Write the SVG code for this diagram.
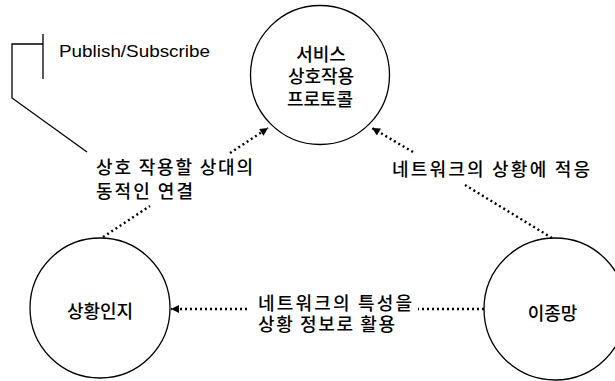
<svg xmlns="http://www.w3.org/2000/svg" width="615" height="381" viewBox="0 0 615 381">
<style>
.node{fill:#fff;stroke:#000;stroke-width:1.3}
.kt{font-family:"Noto Sans CJK KR","Noto Sans CJK SC",sans-serif;font-size:18px;font-weight:500;fill:#000}
.mid{text-anchor:middle}
.dot{fill:none;stroke:#000;stroke-width:2.4;stroke-dasharray:2 3}
.ln{fill:none;stroke:#000;stroke-width:1.3}
</style>
<defs>
<marker id="ah" viewBox="0 0 10 10" refX="10" refY="5" markerWidth="10" markerHeight="8" markerUnits="userSpaceOnUse" orient="auto">
<path d="M0,0 L10,5 L0,10 z" fill="#000"/>
</marker>
</defs>
<rect width="615" height="381" fill="#fff"/>
<g id="connectors">
<path class="dot" d="M103,237 L150,206"/>
<path class="dot" d="M230,153 L268,128" marker-end="url(#ah)"/>
<path class="dot" d="M552,238 L465,185"/>
<path class="dot" d="M413,152 L372,128" marker-end="url(#ah)"/>
<path class="dot" d="M484,309 L418,309"/>
<path class="dot" d="M247,309 L171,309" marker-end="url(#ah)"/>
</g>
<g id="publish-subscribe">
<path class="ln" d="M43,34 L43,79 M43,44 L12,44 L12,98 L87,152"/>
<text x="59" y="57" font-family="Liberation Sans, sans-serif" font-size="17" textLength="151" lengthAdjust="spacingAndGlyphs">Publish/Subscribe</text>
</g>
<g id="node-service">
<circle class="node" cx="320" cy="75" r="69.5"/>
<text class="kt mid" x="321" y="61">서비스</text>
<text class="kt mid" x="321" y="83">상호작용</text>
<text class="kt mid" x="320" y="106">프로토콜</text>
</g>
<g id="node-context">
<circle class="node" cx="100" cy="308" r="70"/>
<text class="kt mid" x="100" y="318">상황인지</text>
</g>
<g id="node-hetero">
<circle class="node" cx="555" cy="309" r="71"/>
<text class="kt mid" x="552.5" y="320">이종망</text>
</g>
<g id="labels">
<text class="kt" x="96" y="174" textLength="157" lengthAdjust="spacing">상호 작용할 상대의</text>
<text class="kt" x="96" y="198" textLength="97" lengthAdjust="spacing">동적인 연결</text>
<text class="kt" x="392" y="176" textLength="198" lengthAdjust="spacing">네트워크의 상황에 적응</text>
<text class="kt" x="258" y="310" textLength="154" lengthAdjust="spacing">네트워크의 특성을</text>
<text class="kt" x="258" y="331" textLength="137" lengthAdjust="spacing">상황 정보로 활용</text>
</g>
</svg>
